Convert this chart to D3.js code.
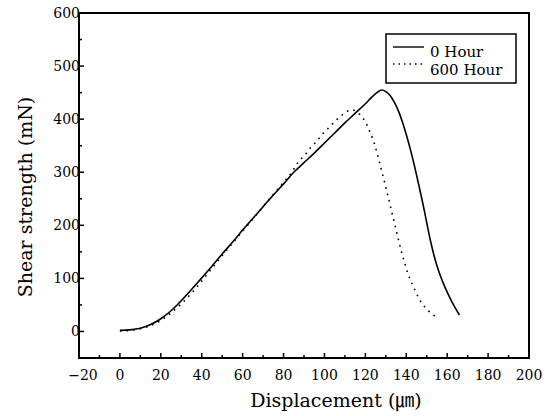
<!DOCTYPE html>
<html>
<head>
<meta charset="utf-8">
<script src="https://cdn.jsdelivr.net/npm/d3@7"></script>
<style>
  body { margin: 0; background: #fff; }
  svg text { font-family: "DejaVu Serif", "Liberation Serif", "Noto Sans CJK JP", serif; fill: #000; }
</style>
</head>
<body>
<svg id="chart"></svg>
<script>
// displacement (um) / shear strength (mN)
var disp0 = [0, 5, 10, 15, 20, 25, 30, 35, 40, 45, 50, 55, 60, 65, 70, 75, 80, 85, 90, 95, 100, 105, 110, 115, 120, 123, 126, 128, 130, 132, 134, 136, 138, 140, 142, 144, 146, 148, 150, 152, 154, 156, 158, 160, 162, 164, 166];
var shear0 = [2, 3, 6, 13, 24, 39, 58, 79, 101, 123, 146, 168, 191, 213, 235, 257, 278, 300, 318, 336, 355, 374, 393, 411, 429, 441, 451, 455, 452, 445, 433, 417, 396, 371, 343, 312, 278, 243, 205, 168, 137, 112, 92, 74, 58, 44, 31];

var disp600 = [0, 5, 10, 15, 20, 25, 30, 35, 40, 45, 50, 55, 60, 65, 70, 75, 80, 84, 87, 90.5, 93.4, 96.3, 99.3, 102.7, 106, 109, 112, 114, 116, 118.8, 120.8, 122, 123.7, 124.7, 125.7, 126.7, 127.6, 128.6, 129.6, 130.6, 131.6, 132.6, 133.6, 134.6, 135.6, 136.6, 137.6, 138.6, 139.6, 140.6, 141.8, 143.3, 144.7, 146.2, 148, 150, 152.5, 155];
var shear600 = [1, 2, 5, 11, 21, 35, 52, 72, 95, 119, 143, 166, 189, 212, 235, 258, 281, 300, 318, 333, 347, 359, 373, 386, 399, 409, 416, 417, 413, 402, 389, 378, 362, 350, 336, 322, 308, 293, 278, 262, 246, 230, 214, 198, 182, 166, 151, 137, 124, 111, 99, 86, 74, 62, 51, 42, 33, 27];

var xTicks = [-20, 0, 20, 40, 60, 80, 100, 120, 140, 160, 180, 200];
var yTicks = [0, 100, 200, 300, 400, 500, 600];
var legendLabels = ["0 Hour", "600 Hour"];

var width = 558, height = 416;
var svg = d3.select("svg#chart")
    .attr("width", width)
    .attr("height", height);

// scales
var x = d3.scaleLinear().domain([-20, 200]).range([79, 529]);
var y = d3.scaleLinear().domain([-50, 600]).range([358, 13]);

// ticks, all pointing into the frame
var g = svg.append("g");
g.selectAll("line.xminor")
    .data(d3.range(-10, 200, 20))
    .enter().append("line")
    .attr("x1", function(d) { return x(d); })
    .attr("x2", function(d) { return x(d); })
    .attr("y1", y(-50)).attr("y2", y(-50) - 3)
    .attr("stroke", "#000").attr("stroke-width", 1.5);
g.selectAll("line.xmajor")
    .data(xTicks)
    .enter().append("line")
    .attr("x1", function(d) { return x(d); })
    .attr("x2", function(d) { return x(d); })
    .attr("y1", y(-50)).attr("y2", y(-50) - 5)
    .attr("stroke", "#000").attr("stroke-width", 1.5);
g.selectAll("line.yminor")
    .data(d3.range(50, 600, 100))
    .enter().append("line")
    .attr("x1", x(-20)).attr("x2", x(-20) + 3)
    .attr("y1", function(d) { return y(d); })
    .attr("y2", function(d) { return y(d); })
    .attr("stroke", "#000").attr("stroke-width", 1.5);
g.selectAll("line.ymajor")
    .data(yTicks)
    .enter().append("line")
    .attr("x1", x(-20)).attr("x2", x(-20) + 5)
    .attr("y1", function(d) { return y(d); })
    .attr("y2", function(d) { return y(d); })
    .attr("stroke", "#000").attr("stroke-width", 1.5);

// tick labels
var fmt = d3.format("d");
svg.append("g").selectAll("text")
    .data(xTicks)
    .enter().append("text")
    .attr("x", function(d) { return x(d) + (d < 0 ? 4 : 0); })
    .attr("y", 380)
    .attr("text-anchor", "middle")
    .attr("font-size", 14)
    .text(function(d) { return fmt(d); });

svg.append("g").selectAll("text")
    .data(yTicks)
    .enter().append("text")
    .attr("x", 80)
    .attr("y", function(d) { return y(d) + 5; })
    .attr("text-anchor", "end")
    .attr("font-size", 14)
    .text(function(d) { return d; });

// frame
svg.append("rect")
    .attr("x", x(-20)).attr("y", y(600))
    .attr("width", x(200) - x(-20))
    .attr("height", y(-50) - y(600))
    .attr("fill", "none")
    .attr("stroke", "#000")
    .attr("stroke-width", 2);

// curves
var line = d3.line()
    .x(function(d) { return x(d[0]); })
    .y(function(d) { return y(d[1]); })
    .curve(d3.curveMonotoneX);

svg.append("path")
    .datum(d3.zip(disp0, shear0))
    .attr("d", line)
    .attr("fill", "none")
    .attr("stroke", "#000")
    .attr("stroke-width", 1.6);

svg.append("path")
    .datum(d3.zip(disp600, shear600))
    .attr("d", line)
    .attr("fill", "none")
    .attr("stroke", "#000")
    .attr("stroke-width", 1.6)
    .attr("stroke-dasharray", "1.6,5");

// axis titles
svg.append("text")
    .attr("x", 336).attr("y", 407)
    .attr("text-anchor", "middle")
    .attr("font-size", 19)
    .text("Displacement (㎛)");

svg.append("text")
    .attr("transform", "translate(32,197) rotate(-90)")
    .attr("text-anchor", "middle")
    .attr("font-size", 19)
    .text("Shear strength (mN)");

// legend
var leg = svg.append("g");
leg.append("rect")
    .attr("x", 386).attr("y", 34)
    .attr("width", 130).attr("height", 49)
    .attr("fill", "#fff")
    .attr("stroke", "#000")
    .attr("stroke-width", 1.5);
leg.selectAll("line")
    .data(legendLabels)
    .enter().append("line")
    .attr("x1", 393).attr("x2", 424)
    .attr("y1", function(d, i) { return 47 + i * 17; })
    .attr("y2", function(d, i) { return 47 + i * 17; })
    .attr("stroke", "#000")
    .attr("stroke-width", 1.4)
    .attr("stroke-dasharray", function(d, i) { return i ? "1.5,4" : null; });
leg.selectAll("text")
    .data(legendLabels)
    .enter().append("text")
    .attr("x", 430)
    .attr("y", function(d, i) { return 57 + i * 18; })
    .attr("font-size", 15)
    .text(function(d) { return d; });
</script>
</body>
</html>
